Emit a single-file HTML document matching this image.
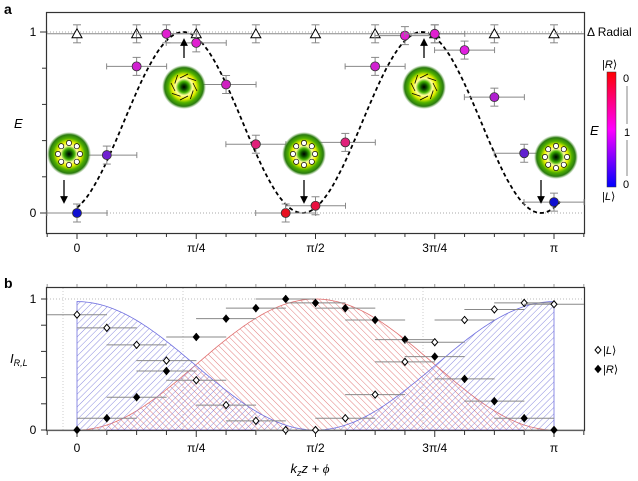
<!DOCTYPE html>
<html><head><meta charset="utf-8">
<style>
html,body{margin:0;padding:0;background:#fff;}
svg{display:block;font-family:"Liberation Sans",sans-serif;}
</style></head>
<body>
<svg id="fig" width="638" height="481" viewBox="0 0 638 481">
<defs>
<pattern id="hatchBlue" patternUnits="userSpaceOnUse" width="4.5" height="4.5" patternTransform="rotate(45)">
<line x1="0" y1="0" x2="0" y2="4.5" stroke="#7070d8" stroke-width="0.9"/></pattern>
<pattern id="hatchRed" patternUnits="userSpaceOnUse" width="4.5" height="4.5" patternTransform="rotate(-45)">
<line x1="0" y1="0" x2="0" y2="4.5" stroke="#e07070" stroke-width="0.9"/></pattern>
<radialGradient id="donut">
<stop offset="0" stop-color="#000"/><stop offset="0.12" stop-color="#0a4a00"/><stop offset="0.25" stop-color="#40b000"/>
<stop offset="0.38" stop-color="#ffffa0"/><stop offset="0.55" stop-color="#e8f000"/>
<stop offset="0.72" stop-color="#50b000"/><stop offset="0.88" stop-color="#2a7a10"/><stop offset="1" stop-color="#60a040" stop-opacity="0"/>
</radialGradient>
<linearGradient id="cbar" x1="0" y1="0" x2="0" y2="1">
<stop offset="0" stop-color="#ff0000"/><stop offset="0.5" stop-color="#ff00ff"/><stop offset="1" stop-color="#0000ff"/>
</linearGradient>
<marker id="arr" markerWidth="6" markerHeight="6" refX="3" refY="3" orient="auto"><path d="M0,0 L6,3 L0,6z" fill="#000"/></marker>
</defs>
<g id="root"></g>
</svg>
<script>
// ---- data ----
const positions = [0,1,2,3,4,5,6,7,8,9,10,11,12,13,14,15,16]; // units of pi/16
const eValues = [0,0.32,0.81,0.99,0.94,0.71,0.38,0,0.04,0.39,0.81,0.98,0.99,0.9,0.64,0.33,0.06];
const eColors = ["#1010d0","#7020d0","#d020d0","#e020d0","#e020d0","#d020c0","#e0207a","#e81020","#e81040","#e0207a","#d020d0","#e020d0","#e020d0","#e020e0","#b020d0","#6020d0","#1010d0"];
const radialPos = [0,2,4,6,8,10,12,14,16];
const radialVals = [0.99,0.99,0.99,0.99,0.99,0.99,0.99,0.99,0.99];
const iL = [0.88,0.78,0.65,0.53,0.38,0.19,0.07,0,0,0.09,0.27,0.52,0.67,0.84,0.92,0.97,0.96];
const iR = [0,0.09,0.25,0.45,0.71,0.85,0.93,1.0,0.97,0.93,0.84,0.69,0.56,0.39,0.22,0.09,0];
const xTickLabels = ["0","π/4","π/2","3π/4","π"];
const curveShift = 0.086; // radians
// ---- scales ----
const NS="http://www.w3.org/2000/svg";
const root=document.getElementById('root');
const X=n=>77+n*(477/16);          // n in pi/16 units
const Xr=r=>77+r/Math.PI*477;       // radians
const Ya=v=>213-v*181;
const Yb=v=>430-v*131;
function el(tag,attrs,parent){const e=document.createElementNS(NS,tag);for(const k in attrs)e.setAttribute(k,attrs[k]);(parent||root).appendChild(e);return e;}
function txt(s,x,y,attrs){const t=el('text',Object.assign({x:x,y:y},attrs||{}));t.innerHTML=s;return t;}

// ===== Panel a =====
const ga=el('g',{});


txt('a',4,14,{'font-weight':'bold','font-size':'14'});
[1,0].forEach(v=>{const l=el('line',{x1:47,x2:584,y1:Ya(v),y2:Ya(v),stroke:'#aaa','stroke-dasharray':'1,2'},ga);});
const fa=el('rect',{x:46.5,y:12.5,width:538,height:221,fill:'none',stroke:'#333','stroke-width':1.2},ga);


for(let n=-1;n<=17;n++){el('line',{x1:X(n),x2:X(n),y1:233,y2:n%4==0?239:237,stroke:'#333'},ga);}
for(let v=0;v<=1.001;v+=0.2){el('line',{x1:46,x2:v==0||v>0.99?40:42,y1:Ya(v),y2:Ya(v),stroke:'#333'},ga);}
xTickLabels.forEach((s,i)=>{const t=txt(s,X(i*4),252,{'text-anchor':'middle','font-size':'12'});});
txt('1',33,36,{'text-anchor':'middle','font-size':'12'});
txt('0',33,217,{'text-anchor':'middle','font-size':'12'});
const ey=txt('E',14,128,{'font-style':'italic','font-size':'13'});
// curve
let d='';for(let i=0;i<=200;i++){const r=i/200*Math.PI*1.013;const v=Math.pow(Math.sin(2*(r+curveShift)),2);d+=(i?'L':'M')+Xr(r).toFixed(1)+','+Ya(v).toFixed(1);}
const cv=el('path',{d:d,fill:'none',stroke:'#000','stroke-width':1.8,'stroke-dasharray':'4,3'},ga);


// radial triangles
radialPos.forEach((n,i)=>{const x=X(n),y=Ya(radialVals[i]);
 el('line',{x1:x-30,x2:x+30,y1:y,y2:y,stroke:'#888'},ga);
 el('line',{x1:x,x2:x,y1:y-9,y2:y+9,stroke:'#888'},ga);
 el('line',{x1:x-4,x2:x+4,y1:y-9,y2:y-9,stroke:'#888'},ga);el('line',{x1:x-4,x2:x+4,y1:y+9,y2:y+9,stroke:'#888'},ga);
 const t=el('path',{d:`M${x},${y-5}L${x+5},${y+4}L${x-5},${y+4}Z`,fill:'#fff',stroke:'#000'},ga);
 });
el('line',{x1:554,x2:584,y1:Ya(0.99),y2:Ya(0.99),stroke:'#888'},ga);
txt('Δ Radial',587,36,{'font-size':'12'});
// E points
positions.forEach((n,i)=>{const x=X(n),y=Ya(eValues[i]);
 el('line',{x1:x-30,x2:x+30,y1:y,y2:y,stroke:'#888'},ga);
 el('line',{x1:x-30,x2:x-30,y1:y-3,y2:y+3,stroke:'#888'},ga);el('line',{x1:x+30,x2:x+30,y1:y-3,y2:y+3,stroke:'#888'},ga);
 el('line',{x1:x,x2:x,y1:y-9,y2:y+9,stroke:'#888'},ga);
 el('line',{x1:x-4,x2:x+4,y1:y-9,y2:y-9,stroke:'#888'},ga);el('line',{x1:x-4,x2:x+4,y1:y+9,y2:y+9,stroke:'#888'},ga);
 const c=el('circle',{cx:x,cy:y,r:4.5,fill:eColors[i],stroke:'#333','stroke-width':0.8},ga);
 });
// insets
function donut(cx,cy,radial){const g=el('g',{},ga);
 
 
 el('circle',{cx:cx,cy:cy,r:22,fill:'url(#donut)'},g);
 for(let k=0;k<8;k++){const a=k*Math.PI/4,px=cx+11*Math.cos(a),py=cy+11*Math.sin(a);
  if(radial)el('circle',{cx:px,cy:py,r:2.6,fill:'#fff',stroke:'#000','stroke-width':0.7},g);
  else{const tx=-Math.sin(a),ty=Math.cos(a);el('line',{x1:px-tx*4-Math.cos(a)*2,y1:py-ty*4-Math.sin(a)*2,x2:px+tx*4+Math.cos(a)*2,y2:py+ty*4+Math.sin(a)*2,stroke:'#000','stroke-width':0.8},g);}}
}
donut(69,154,true);donut(184,87,false);donut(304,154,true);donut(424,87,false);donut(556,157,true);
[[64,180,64,200],[304,180,304,200],[541,180,541,200],[184,58,184,42],[424,58,424,42]].forEach(a=>{el('line',{x1:a[0],y1:a[1],x2:a[2],y2:a[3],stroke:'#000','stroke-width':1.3,'marker-end':'url(#arr)'},ga);});
// colorbar
const cb=el('rect',{x:607,y:72,width:9,height:115,fill:'url(#cbar)',stroke:'#333','stroke-width':0.5},ga);

txt('|<tspan font-style="italic">R</tspan>⟩',602,68,{'font-size':'11'});
txt('|<tspan font-style="italic">L</tspan>⟩',602,200,{'font-size':'11'});
txt('0',623,82,{'font-size':'11'});txt('1',624,136,{'font-size':'11'});txt('0',623,188,{'font-size':'11'});
txt('E',590,135,{'font-style':'italic','font-size':'13'});
el('line',{x1:627,x2:627,y1:86,y2:124,stroke:'#333','stroke-width':0.6},ga);
el('line',{x1:627,x2:627,y1:140,y2:176,stroke:'#333','stroke-width':0.6},ga);

// ===== Panel b =====
const gb=el('g',{});


txt('b',4,288,{'font-weight':'bold','font-size':'14'});
el('line',{x1:47,x2:584,y1:Yb(1),y2:Yb(1),stroke:'#bbb','stroke-dasharray':'1,2'},gb);
[63,183,423].forEach(x=>el('line',{x1:x,x2:x,y1:288,y2:430,stroke:'#ccc','stroke-dasharray':'1,2'},gb));
let dl='M'+Xr(0)+','+Yb(0),dr='M'+Xr(0)+','+Yb(0);
for(let i=0;i<=200;i++){const r=i/200*Math.PI;dl+='L'+Xr(r).toFixed(1)+','+Yb(Math.pow(Math.cos(r),2)*0.98).toFixed(1);dr+='L'+Xr(r).toFixed(1)+','+Yb(Math.pow(Math.sin(r),2)).toFixed(1);}
dl+='L'+Xr(Math.PI)+','+Yb(0)+'Z';dr+='Z';
const ar=el('path',{d:dr,fill:'url(#hatchRed)',stroke:'#e07070','stroke-width':0.8},gb);

const al=el('path',{d:dl,fill:'url(#hatchBlue)','fill-opacity':0.9,stroke:'#7070e0','stroke-width':0.8},gb);

const fb=el('rect',{x:46.5,y:287.5,width:538,height:143,fill:'none',stroke:'#333','stroke-width':1.2},gb);

for(let n=-1;n<=17;n++){el('line',{x1:X(n),x2:X(n),y1:431,y2:n%4==0?437:435,stroke:'#333'},gb);el('line',{x1:X(n),x2:X(n),y1:287,y2:284,stroke:'#999'},gb);}
for(let v=0;v<=1.001;v+=0.2){el('line',{x1:46,x2:41,y1:Yb(v),y2:Yb(v),stroke:'#333'},gb);}
xTickLabels.forEach((s,i)=>{const t=txt(s,X(i*4),452,{'text-anchor':'middle','font-size':'12'});});
txt('1',33,303,{'text-anchor':'middle','font-size':'12'});txt('0',33,434,{'text-anchor':'middle','font-size':'12'});
const yb=txt('I<tspan font-size="9" dy="3">R,L</tspan>',10,363,{'font-style':'italic','font-size':'13'});

const xt=txt('k<tspan font-size="9" dy="3">z</tspan><tspan dy="-3">z + </tspan><tspan font-family="Liberation Serif">ϕ</tspan>',310,473,{'font-style':'italic','font-size':'13','text-anchor':'middle'});

function diamond(x,y,filled,name){const p=el('path',{d:`M${x},${y-3.5}L${x+3},${y}L${x},${y+3.5}L${x-3},${y}Z`,fill:filled?'#000':'#fff',stroke:'#000','stroke-width':1},gb);}
positions.forEach((n,i)=>{[[iL[i],false,'i-l-point'],[iR[i],true,'i-r-point']].forEach(s=>{const x=X(n),y=Yb(s[0]);
 el('line',{x1:Math.max(47,x-30),x2:Math.min(584,x+30),y1:y,y2:y,stroke:'#888'},gb);
 el('line',{x1:x,x2:x,y1:y-4,y2:y+4,stroke:'#666'},gb);
 diamond(x,y,s[1],s[2]);});});
diamond(598,350,false,'legend-i-l-marker');diamond(598,369,true,'legend-i-r-marker');
txt('|<tspan font-style="italic">L</tspan>⟩',603,354,{'font-size':'11'});
txt('|<tspan font-style="italic">R</tspan>⟩',603,373,{'font-size':'11'});
</script>
</body></html>
